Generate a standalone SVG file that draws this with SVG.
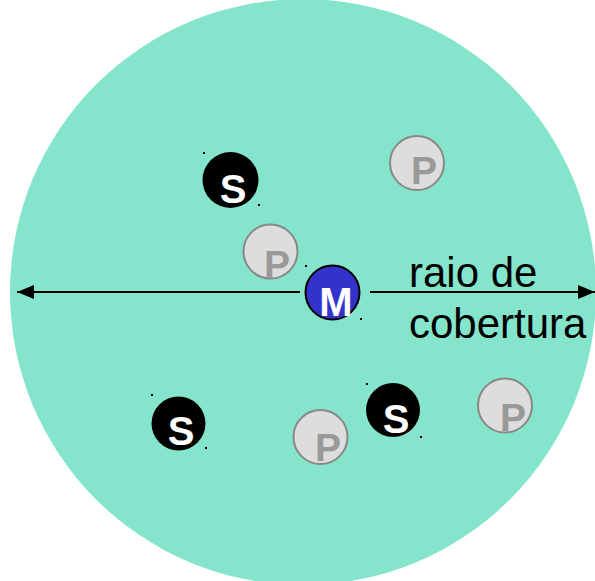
<svg xmlns="http://www.w3.org/2000/svg" width="595" height="581" viewBox="0 0 595 581">
<style>
.s circle{fill:#000}
.s text,.m text{fill:#fff;font-family:"Liberation Sans",Arial,sans-serif;font-weight:bold;font-size:40px;text-anchor:middle}
.p circle{fill:#dddddd;stroke:#888;stroke-width:2}
.p text{fill:#999;font-family:"Liberation Sans",Arial,sans-serif;font-weight:bold;font-size:39px;text-anchor:middle}
.dot{fill:#000}
.lbl{font-family:"Liberation Sans",Arial,sans-serif;font-size:42px;fill:#000}
</style>
<defs>
<marker id="ah" markerWidth="17" markerHeight="14" refX="17" refY="7" orient="auto" markerUnits="userSpaceOnUse">
<path d="M0,0 L17,7 L0,14 z" fill="#000"/>
</marker>
</defs>
<rect width="595" height="581" fill="#fff"/>
<g id="coverage"><circle cx="303" cy="292" r="293" fill="#85e5cc"/></g>
<g id="connectors">
<line x1="300" y1="292" x2="17" y2="292" stroke="#000" stroke-width="2" marker-end="url(#ah)"/>
<line x1="370" y1="292" x2="595" y2="292" stroke="#000" stroke-width="2" marker-end="url(#ah)"/>
</g>
<g id="S1" class="s"><circle cx="230.5" cy="180" r="28"/><text x="233" y="203">S</text><rect class="dot" x="203" y="152" width="2" height="2"/><rect class="dot" x="258" y="204" width="2" height="2"/></g>
<g id="S2" class="s"><circle cx="178.5" cy="423.5" r="27"/><text x="181" y="445">S</text><rect class="dot" x="151" y="394" width="2" height="2"/><rect class="dot" x="205" y="447" width="2" height="2"/></g>
<g id="S3" class="s"><circle cx="393" cy="410" r="27"/><text x="396" y="433">S</text><rect class="dot" x="366" y="383" width="2" height="2"/><rect class="dot" x="420" y="436" width="2" height="2"/></g>
<g id="P1" class="p"><circle cx="417" cy="163" r="27"/><text x="424" y="184">P</text></g>
<g id="P2" class="p"><circle cx="270.5" cy="251.5" r="27"/><text x="277" y="278">P</text></g>
<g id="P3" class="p"><circle cx="320.5" cy="437" r="27"/><text x="328" y="461">P</text></g>
<g id="P4" class="p"><circle cx="505" cy="405.5" r="27"/><text x="513" y="431">P</text></g>
<g id="M" class="m"><circle cx="332.5" cy="292.5" r="27" fill="#3333cc" stroke="#000" stroke-width="2"/><text x="336" y="316">M</text><rect class="dot" x="305" y="265" width="2" height="2"/><rect class="dot" x="360" y="318" width="2" height="2"/></g>
<g id="label"><text class="lbl" x="409" y="287">raio de</text><text class="lbl" x="409" y="338">cobertura</text></g>
</svg>
